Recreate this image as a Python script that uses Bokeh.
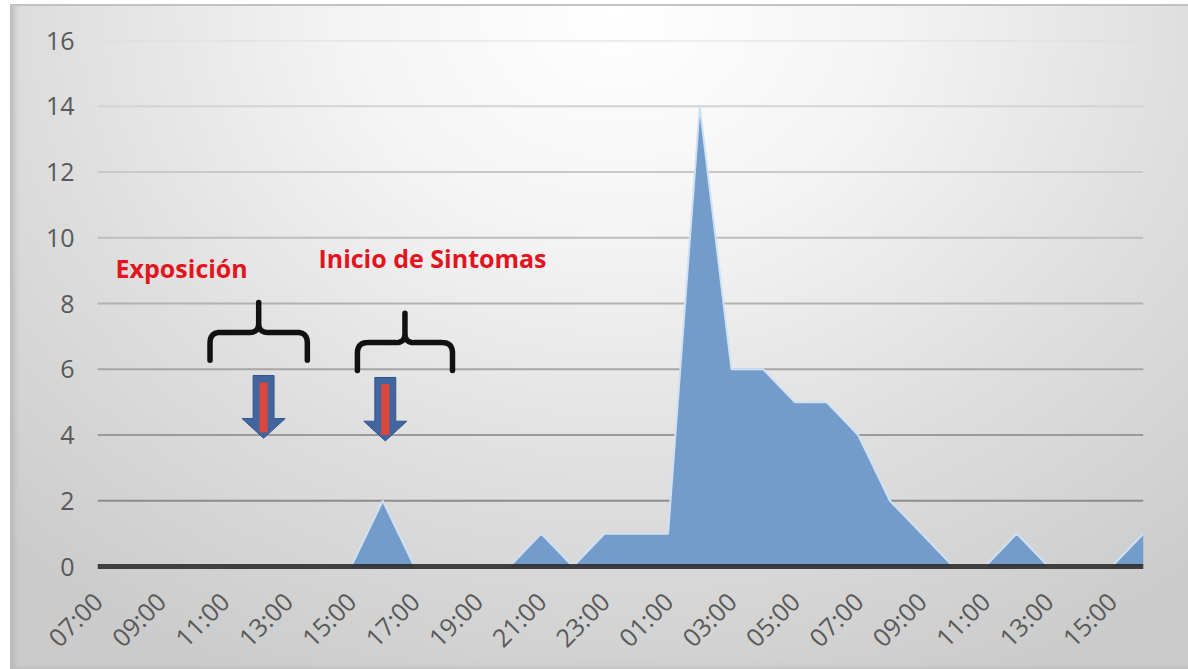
import math
from bokeh.plotting import figure
from bokeh.models import Range1d, FixedTicker, Span, InlineStyleSheet
from bokeh.core.properties import value
from bokeh.embed import file_html
from bokeh.resources import INLINE

# ---- data ----
hours = ["07:00", "08:00", "09:00", "10:00", "11:00", "12:00", "13:00", "14:00",
         "15:00", "16:00", "17:00", "18:00", "19:00", "20:00", "21:00", "22:00",
         "23:00", "00:00", "01:00", "02:00", "03:00", "04:00", "05:00", "06:00",
         "07:00", "08:00", "09:00", "10:00", "11:00", "12:00", "13:00", "14:00",
         "15:00", "16:00"]
cases = [0, 0, 0, 0, 0, 0, 0, 0,
         0, 2, 0, 0, 0, 0, 1, 0,
         1, 1, 1, 14, 6, 6, 5, 5,
         4, 2, 1, 0, 0, 1, 0, 0,
         0, 1]
y_ticks = [0, 2, 4, 6, 8, 10, 12, 14, 16]
label_texts = ["Exposición", "Inicio de Sintomas"]

xs = list(range(len(hours)))

FONT = "Open Sans"
LABEL_COLOR = "#595959"

PX_PER_UNIT = 526 / 16.0
y_pad = 4 / PX_PER_UNIT  # a few pixels below zero so the thick base line is not clipped

p = figure(frame_width=1046, frame_height=530,
           min_border_left=97, min_border_right=45,
           min_border_top=40, min_border_bottom=99,
           x_range=Range1d(0, len(hours) - 1), y_range=Range1d(-y_pad, 16),
           output_backend="svg", toolbar_location=None, tools="")

p.background_fill_color = None
p.border_fill_color = None
p.outline_line_color = None
p.stylesheets = [InlineStyleSheet(css="""
:host {
  background: radial-gradient(ellipse 75% 110% at 52% 2%, #ffffff 0%, #f4f4f4 30%, #dedede 65%, #cbcbcb 100%);
  box-shadow: inset 10px 0 0 #ffffff, inset 0 4px 0 #ffffff, inset 0 6px 0 #c2c2c2, inset 14px 0 6px #b8b8b8;
}
""")]

p.xgrid.grid_line_color = None
p.ygrid.grid_line_color = None

# gridlines (darker toward the bottom as in the reference)
grid_colors = ["#8c8c8c", "#9a9a9a", "#a6a6a6", "#b2b2b2", "#bebebe", "#c9c9c9", "#d4d4d4", "#dddddd"]
for yv, c in zip(y_ticks[1:], grid_colors):
    p.add_layout(Span(location=yv, dimension="width", line_color=c,
                      line_width=2, level="underlay"))

# area
p.varea(x=xs, y1=0, y2=cases, fill_color="#749cca", fill_alpha=1.0)
p.line(x=xs, y=cases, line_color="#cfe1f3", line_width=2)

# zero axis line
p.add_layout(Span(location=0, dimension="width", line_color="#2e2e2e",
                  line_width=5, line_alpha=0.9, level="overlay"))

# axes
p.yaxis.ticker = FixedTicker(ticks=y_ticks)
p.yaxis.axis_line_color = None
p.yaxis.major_tick_line_color = None
p.yaxis.minor_tick_line_color = None
p.yaxis.major_tick_out = 0
p.yaxis.major_label_standoff = 23
p.yaxis.major_label_text_font = FONT
p.yaxis.major_label_text_font_size = "25px"
p.yaxis.major_label_text_color = LABEL_COLOR

p.xaxis.ticker = FixedTicker(ticks=xs[::2])
p.xaxis.major_label_overrides = {i: hours[i] for i in xs[::2]}
p.xaxis.axis_line_color = None
p.xaxis.major_tick_line_color = None
p.xaxis.minor_tick_line_color = None
p.xaxis.major_tick_out = 0
p.xaxis.major_label_orientation = math.pi / 4
p.xaxis.major_label_standoff = 26
p.xaxis.major_label_text_font = FONT
p.xaxis.major_label_text_font_size = "25px"
p.xaxis.major_label_text_color = LABEL_COLOR

# ---- annotations ----
p.text(x=[0.57, 6.97], y=[9.09, 9.37], text=label_texts,
       text_font=value(FONT), text_font_style="bold", text_font_size="25px",
       text_color="#e3141e", text_align="left", text_baseline="middle")


def brace(L, R, B, H, T, r=0.32, r2=0.28):
    C = (L + R) / 2.0

    def quad(p0, p1, p2, n=8):
        out = []
        for k in range(1, n + 1):
            t = k / n
            out.append(((1 - t) ** 2 * p0[0] + 2 * (1 - t) * t * p1[0] + t ** 2 * p2[0],
                        (1 - t) ** 2 * p0[1] + 2 * (1 - t) * t * p1[1] + t ** 2 * p2[1]))
        return out

    pts = [(L, B), (L, H - r)]
    pts += quad((L, H - r), (L, H), (L + r, H))
    pts += [(C - r2, H)]
    pts += quad((C - r2, H), (C, H), (C, H + r2))
    pts += [(C, T), (C, H + r2)]
    pts += quad((C, H + r2), (C, H), (C + r2, H))
    pts += [(R - r, H)]
    pts += quad((R - r, H), (R, H), (R, H - r))
    pts += [(R, B)]
    return [q[0] for q in pts], [q[1] for q in pts]


bx1, by1 = brace(3.55, 6.62, 6.27, 7.12, 8.03)
bx2, by2 = brace(8.2, 11.2, 5.96, 6.81, 7.70)
p.multi_line(xs=[bx1, bx2], ys=[by1, by2], line_color="#111111", line_width=5.5,
             line_cap="round", line_join="round")


def arrow(cx, top=5.81, neck=4.5, tip=3.9, sw=0.33, hw=0.68):
    return ([cx - sw, cx + sw, cx + sw, cx + hw, cx, cx - hw, cx - sw],
            [top, top, neck, neck, tip, neck, neck])


ax1, ay1 = arrow(5.24)
ax2, ay2 = arrow(9.08, top=5.75, neck=4.42, tip=3.82)
p.patches(xs=[ax1, ax2], ys=[ay1, ay2], fill_color="#41659f",
          line_color="#35568a", line_width=1)
sw_r = 0.13
p.patches(xs=[[5.24 - sw_r, 5.24 + sw_r, 5.24 + sw_r, 5.24 - sw_r],
              [9.08 - sw_r, 9.08 + sw_r, 9.08 + sw_r, 9.08 - sw_r]],
          ys=[[5.6, 5.6, 4.08, 4.08], [5.55, 5.55, 4.0, 4.0]],
          fill_color="#d9473d", line_color=None)

open("out.html", "w").write(file_html(p, INLINE))
